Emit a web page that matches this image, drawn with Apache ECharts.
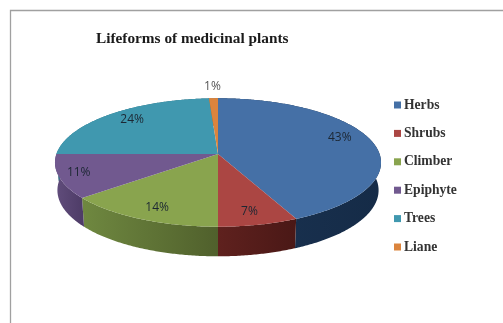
<!DOCTYPE html>
<html><head><meta charset="utf-8">
<style>html,body{margin:0;padding:0;background:#fff}#c{width:503px;height:323px;filter:blur(0.45px)}</style>
<script src="https://cdn.jsdelivr.net/npm/echarts@6/dist/echarts.min.js"></script>
</head><body><div id="c"></div>
<script>
const titleText = 'Lifeforms of medicinal plants';
const categories = ['Herbs', 'Shrubs', 'Climber', 'Epiphyte', 'Trees', 'Liane'];
const percents = [43, 7, 14, 11, 24, 1];

const topColors = ['#4570A6', '#AB4643', '#89A44E', '#71598F', '#4098AF', '#DB843D'];
const sideDark = ['#152B47', '#4A1816', '#50602C', '#4D3B66', '#24606F', '#8A5022'];
const sideLight = ['#1A3352', '#5F211E', '#6F8840', '#614D7C', '#2E7A8C', '#A86428'];
const labelRadius = [0.79, 0.80, 0.80, 0.88, 0.78, 1.27];
const labelShift = [-6, 3, 3, -1, -3, 1];

const cx = 218, cy = 154, rX = 161.6, rY = 63.1, persp = 0.1323;
const depthBack = 27.5, depthFront = 29.6, rimScale = 0.985;
const total = percents.reduce((a, b) => a + b, 0);

function project(angle, r) {
  const u = Math.sin(angle) * r, v = -Math.cos(angle) * r;
  const d = 1 - persp * v;
  return [cx + rX * u / d, cy + rY * v / d];
}
function startAngle(i) {
  let s = 0;
  for (let k = 0; k < i; k++) s += percents[k];
  return s / total * Math.PI * 2;
}
function arcAngles(a0, a1) {
  const n = Math.max(2, Math.ceil((a1 - a0) / 0.01));
  const out = [];
  for (let i = 0; i <= n; i++) out.push(a0 + (a1 - a0) * i / n);
  return out;
}
function lowerPoint(a) {
  const p = project(a, 1);
  const f = Math.max(0, -Math.cos(a));
  return [cx + (p[0] - cx) * rimScale, p[1] + depthBack + (depthFront - depthBack) * f];
}
function renderSlice(i) {
  return function (params, api) {
    const a0 = startAngle(i);
    const a1 = a0 + api.value(0) / total * Math.PI * 2;
    const angles = arcAngles(a0, a1);
    const arc = angles.map(a => project(a, 1));
    const lower = angles.map(lowerPoint).reverse();
    const mid = (a0 + a1) / 2;
    const lp = project(mid, labelRadius[i]);
    return {
      type: 'group',
      children: [
        {
          type: 'polygon', z2: 1, silent: true,
          shape: { points: arc.concat(lower) },
          style: {
            fill: {
              type: 'linear', x: 0, y: 0, x2: 1, y2: 0,
              colorStops: [{ offset: 0, color: sideLight[i] }, { offset: 1, color: sideDark[i] }]
            }
          }
        },
        {
          type: 'polygon', z2: 2, silent: true,
          shape: { points: [[cx, cy]].concat(arc) },
          style: { fill: topColors[i] }
        },
        {
          type: 'text', z2: 3, silent: true,
          x: lp[0], y: lp[1] + labelShift[i],
          style: {
            text: api.value(0) + '%',
            fill: i === 5 ? '#555' : '#1c2733',
            font: '12px "Open Sans"',
            align: 'center', verticalAlign: 'middle'
          }
        }
      ]
    };
  };
}

const chart = echarts.init(document.getElementById('c'), null, { renderer: 'canvas' });
chart.setOption({
  animation: false,
  backgroundColor: '#fff',
  title: {
    text: titleText, left: 91, top: 27,
    textStyle: { fontFamily: 'Liberation Serif', fontWeight: 'bold', fontSize: 15.3, color: '#1a1a1a' }
  },
  legend: {
    orient: 'vertical', left: 389, top: 93,
    itemWidth: 7, itemHeight: 7, itemGap: 14.4,
    icon: 'rect', selectedMode: false,
    data: categories,
    textStyle: { fontFamily: 'Liberation Serif', fontWeight: 'bold', fontSize: 13.6, color: '#333', padding: [0, 0, 0, -2], height: 14, lineHeight: 14 }
  },
  graphic: [
    { type: 'polyline', silent: true, shape: { points: [[10.5, 323], [10.5, 10.5], [503, 10.5]] },
      style: { stroke: '#a0a0a0', lineWidth: 1.3, fill: null } }
  ],
  series: categories.map((name, i) => ({
    type: 'custom', name, coordinateSystem: 'none', silent: true,
    itemStyle: { color: topColors[i] },
    data: [[percents[i]]],
    renderItem: renderSlice(i)
  }))
});
</script></body></html>
